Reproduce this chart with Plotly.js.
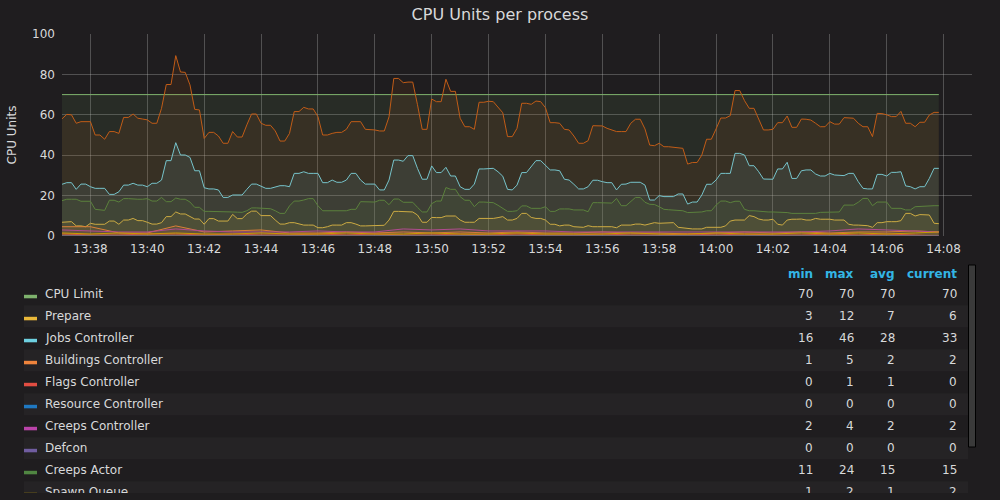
<!DOCTYPE html>
<html><head><meta charset="utf-8">
<script src="https://cdn.plot.ly/plotly-3.0.1.min.js"></script>
<style>html,body{margin:0;padding:0;background:#1f1d1f;width:1000px;height:500px;overflow:hidden}#chart{width:1000px;height:493px}</style>
</head><body><div id="chart"></div>
<script>
// ---------- DATA ----------
const startLabel = '13:37:00';
const sampleStepSeconds = 10;

const cpuLimitTimes = ['13:37:00', '14:07:50'];
const cpuLimitValues = [70, 70];

const prepareValues = [6.8,7.1,7.1,5,5,4.6,6.3,5.8,5.8,5.8,
7.4,7.4,5.8,7.9,7.9,8.7,7.6,7.6,6.8,5.9,
5.9,6.6,9.6,9.6,11.9,10.9,10.9,9.6,8.4,8.4,
5.8,8.6,8.6,7.4,7.4,7.4,10.7,8.6,8.6,10.9,
12.3,12.3,10.1,10.1,10.1,7.9,5.9,5.9,6.6,6.6,
5.9,5.4,5.4,5.4,4.1,4.1,4.6,5.4,5.4,5.4,
6.6,6.6,5.9,5,5,5,5.3,5.3,5.3,7.9,
12.2,12.2,12,11.9,11.9,10.4,6.8,6.8,9.2,9.1,
9.1,9.9,9.9,9.9,7.9,6.8,6.8,6.8,8.7,8.7,
8.7,8.7,9.1,
9.6,7.9,7.9,8.7,11.2,11.2,9.2,
8.7,8.7,7.9,5.8,5.8,5,5.4,5.4,4.6,4.3,
4.3,5.1,4.6,4.6,4.6,4.6,4.6,4.1,5.4,5.4,
5.4,5.9,5.9,5.4,5.9,6.6,6.3,6.3,6.3,6.6,
4.3,4,3.5,3.5,3.5,3.5,4.3,4.3,4.3,4.3,
5,7.4,7.9,7.9,7.9,10.1,9.6,8.4,7.9,7.9,
8.3,5.8,5.4,7.9,8.3,8.3,8.4,7.9,7.9,8.7,
8.3,8.3,8.3,7.9,7.9,7.9,5.8,5.4,5.4,5.1,
5.1,4.3,6.6,6.6,7.1,7.1,7.1,7.6,11.2,11.2,
9.9,10.6,10.6,10.4,6.3,6.1];

const jobsControllerValues = [25.6,26.4,26.4,23.1,25.7,25.7,24.4,23.6,23.6,23.6,
20.6,20.6,21.9,25.2,25.2,26.1,25.2,25.2,24.4,26.1,
26.1,27.7,37.3,37.3,46.2,40.1,40.1,38.9,32.3,32.3,
23.9,23.3,23.3,22.8,19.1,19.1,20.3,20.3,20.3,23.1,
25.7,25.7,24.8,23.6,23.6,24.1,24.9,24.9,24.4,31,
31,31.8,31,31,31,26.4,26.4,27.7,26.6,26.6,
27.7,31,31,27.7,25.7,25.7,25.7,22.8,22.8,27.7,
37.6,37.6,37,39.8,39.8,33.5,28.1,28.1,34.7,31.4,
31.4,34,29.7,29.7,24.4,23.1,23.1,25.7,33.2,33.2,
33.5,33.5,31.8,
29.6,23.1,22.8,25.2,31.4,31.4,34.3,
37.3,37.3,35.1,32.7,32.7,32.3,28.1,27.7,25.6,23.3,
23.3,24.4,27.6,27.6,26.9,26.4,26.4,22.8,25.6,25.7,
26.6,26.6,26.6,25.2,17.8,17.8,20,19.5,19.5,19.5,
20.8,20.8,15.8,16.8,16.8,20.3,25.6,25.6,27.7,31,
31,31,40.9,40.9,40.1,34.8,34.8,31.8,28.2,28.1,
28.1,33.2,33.2,36.5,28.5,28.5,32.3,32.7,32.7,30.7,
29.7,29.7,31,30.2,30.2,29.9,31,31,26.9,23.6,
23.3,23.3,30.5,30.5,29.7,31.5,31.5,31.8,24.8,24.4,
23.3,24.4,24.4,28.5,33.5,33.5];

const creepsActorValues = [17.5,18.2,18.2,18.2,17.2,17.2,17.2,13.2,13,12.7,
17.7,17.7,16.8,18.5,18.5,18.2,18.2,18.2,18.5,17.3,
17.3,19.1,17,17,18.8,18.2,18.2,16.8,14.2,14.2,
12.2,12.2,12.2,11.9,11.9,11.9,11.9,11.8,11.7,12.5,
13.9,13.9,13.8,13.5,13.5,12.5,11.2,11.2,14.9,17.3,
17.3,17.8,18.5,18.5,15,12.5,12.5,12.2,12.2,12.2,
12.5,13.2,13.2,17,16.9,16.8,16.8,17.7,17.7,15.5,
18.3,18.3,16.7,16.7,16.7,14.2,11.9,11.9,16,17.3,
17.3,24,23.1,23.1,19.5,17.7,17.7,14.5,16.8,16.8,
16.5,16.5,15.2,
13.8,12.2,12.2,12.5,14.9,14.9,13.7,
13.7,13.7,14.5,12.2,12.2,13.4,13.4,13.4,12.9,12.9,
12.9,12,16.5,16.5,16.5,16.4,16.3,18.6,15,15,
17,19.1,19.1,16.7,15.7,15.6,14.5,13.2,13,12.8,
12.6,12.5,11.6,11.7,11.8,11.9,12.5,12.5,15.3,17.3,
17.3,16.5,17.2,17.2,13.2,12.5,12.5,12.2,11.9,11.9,
11.9,11.9,11.9,11.6,11.2,11.2,11.2,11.2,11.2,11.2,
11.7,11.7,11.8,11.8,11.9,15.3,15.3,15.3,16.7,18.6,
18.6,15,16.8,16.8,16.8,13.7,13.7,13.7,12.9,12.9,
14.5,14.7,14.9,14.9,15,15];

const totalValues = [58,60.2,60,55.8,56.6,56.6,56.6,50,50,47.9,
51.7,51.7,50.8,58.7,58.7,60.4,58.3,57.9,57.5,55.8,
55.8,63.2,75,75,89.3,81.2,81,74.8,62.7,62.4,
48.3,51.3,51.3,49.5,45.9,45.9,51.7,49,49,55,
60.4,60.4,55.8,54.8,54.8,52,47,47,50.8,61.6,
61.6,63.7,62.9,62.9,59.1,50,50,50.8,51.3,51.3,
52.8,56.6,56.6,56.6,52.8,52.8,52.5,52,52,59,
78,78,75.9,76.2,76.2,65,52.8,52.8,67.8,66.5,
66.5,77.6,71.6,71.6,58.3,54.1,54.1,52.8,66.2,66.2,
66.7,66.5,64,
61,49.2,49.2,53.3,65.7,65.7,65.2,
66.8,66.5,63.5,56.1,56.1,55.8,52.8,52.5,49.5,45.9,
45.9,47.2,54.6,54.6,54.5,53.3,52.5,51.7,51.7,51.7,
55.8,57.8,57.8,53,45,44.7,45.9,44.2,44.2,43.9,
43.4,43.4,35.6,36.4,36.4,40.1,47.9,47.9,53,58.4,
58.4,59.6,72,72,67,63.2,63.2,57.8,52.5,52.5,
52.8,56.1,56.1,59.4,53.8,53.8,57.9,57.8,57.4,55.8,
54.1,54.1,56.6,55.4,55.4,58.6,58.3,58.3,55.8,54.1,
54.1,49.2,60.7,60.6,60,59.1,59.1,61.7,55.8,55.8,
54.1,56.3,56.3,59.9,61.2,61.2];

// small series, one reading per minute (13:37 ... 14:07, then 14:07:50)
const minuteTimes = ['13:37:00','13:38:00','13:39:00','13:40:00','13:41:00','13:42:00','13:43:00','13:44:00',
'13:45:00','13:46:00','13:47:00','13:48:00','13:49:00','13:50:00','13:51:00','13:52:00','13:53:00','13:54:00',
'13:55:00','13:56:00','13:57:00','13:58:00','13:59:00','14:00:00','14:01:00','14:02:00','14:03:00','14:04:00',
'14:05:00','14:06:00','14:07:00','14:07:50'];
const buildingsControllerValues = [4.6,4.6,1.5,1.5,5,2,2.5,3,1.5,1.5,2,1.5,2,1.5,2,1.5,2,1.5,1.5,2,1.5,1.5,1,1.5,2,1.5,2,1.5,2,2,2.5,2];
const flagsControllerValues = [1,0.5,0.5,1,1,0.5,1,0.5,0.5,1,0.5,1,0.5,0.5,1,0.5,1,0.5,0.5,1,0.5,0.5,1,0.5,1,0.5,0.5,1,0.5,1,0.5,0];
const creepsControllerValues = [3,2.5,2,2,3.5,2.5,2,2,2,2.5,2,2,3.5,3,3.5,2.5,2.5,2.5,2,2,2,2,2,2,2,2,2,2.5,3.5,3,2.5,2];
const spawnQueueValues = [1.5,1,1.5,1,1.5,1,1,1.5,1,1,1.5,1,1,1.5,1,1,1.5,1,1,1,1.5,1,1,1.5,1,1,1.5,1,1.5,1,1.5,2];
const resourceControllerValues = [0, 0];
const defconValues = [0, 0];

// legend table
const legendNames = ['CPU Limit','Prepare','Jobs Controller','Buildings Controller','Flags Controller',
  'Resource Controller','Creeps Controller','Defcon','Creeps Actor','Spawn Queue'];
const statHeaders = ['min','max','avg','current'];
const statMin = [70,3,16,1,0,0,2,0,11,1];
const statMax = [70,12,46,5,1,0,4,0,24,2];
const statAvg = [70,7,28,2,1,0,2,0,15,1];
const statCurrent = [70,6,33,2,0,0,2,0,15,2];

const chartTitle = 'CPU Units per process';
const yTitle = 'CPU Units';
const xRange = ['13:37:00', '14:09:00'];
const yRange = [0, 100];

// ---------- STYLE ----------
const colors = {
  'CPU Limit':'#7EB26D','Prepare':'#EAB839','Jobs Controller':'#6ED0E0','Buildings Controller':'#EF843C',
  'Flags Controller':'#E24D42','Resource Controller':'#1F78C1','Creeps Controller':'#BA43A9','Defcon':'#705DA0',
  'Creeps Actor':'#508642','Spawn Queue':'#CCA300','Total':'#C15C17'
};
const FONT = 'DejaVu Sans, sans-serif';
const TEXT = '#d8d9da';
const BG = '#1f1d1f';

const day = '2017-01-01 ';
function toSec(hms){ const p = hms.split(':').map(Number); return p[0]*3600+p[1]*60+p[2]; }
function pad(n){ return (n<10?'0':'')+n; }
function stamp(sec){ return day+pad(Math.floor(sec/3600))+':'+pad(Math.floor(sec%3600/60))+':'+pad(sec%60); }
const startSec = toSec(startLabel);
const sampleTimes = prepareValues.map((_, i) => stamp(startSec + i*sampleStepSeconds));
const dt = arr => arr.map(t => day + t);

function rgba(hex, a){
  const n = parseInt(hex.slice(1),16);
  return 'rgba('+((n>>16)&255)+','+((n>>8)&255)+','+(n&255)+','+a+')';
}
function series(name, x, y){
  return {type:'scatter', mode:'lines', name:name, x:x, y:y,
    line:{color:colors[name], width:1, shape:'linear'},
    fill:'tozeroy', fillcolor:rgba(colors[name],0.1), hoverinfo:'skip', showlegend:false};
}

const traces = [
  series('CPU Limit', dt(cpuLimitTimes), cpuLimitValues),
  series('Prepare', sampleTimes, prepareValues),
  series('Jobs Controller', sampleTimes, jobsControllerValues),
  series('Buildings Controller', dt(minuteTimes), buildingsControllerValues),
  series('Flags Controller', dt(minuteTimes), flagsControllerValues),
  series('Resource Controller', dt(cpuLimitTimes), resourceControllerValues),
  series('Creeps Controller', dt(minuteTimes), creepsControllerValues),
  series('Defcon', dt(cpuLimitTimes), defconValues),
  series('Creeps Actor', sampleTimes, creepsActorValues),
  series('Spawn Queue', dt(minuteTimes), spawnQueueValues),
  series('Total', sampleTimes, totalValues)
];

// pixel -> paper helpers (plot area: x 62..972, y 34..236)
const PL = 62, PR = 972, PT = 34, PB = 236, H = 493;
const X = px => (px - PL) / (PR - PL);
const Y = py => (PB - py) / (PB - PT);

const shapes = [];
const annotations = [];
const rowTop = 294.3, rowStep = 22;
const colRight = [813.5, 854.5, 896, 957.5];
const statCols = [statMin, statMax, statAvg, statCurrent];

statHeaders.forEach((h, c) => annotations.push({xref:'paper', yref:'paper', x:X(colRight[c]), y:Y(273.5),
  xanchor:'right', yanchor:'middle', showarrow:false, text:'<b>'+h+'</b>', borderpad:0,
  font:{family:FONT, size:12, color:'#33b5e5'}}));

legendNames.forEach((name, i) => {
  const cy = rowTop + i*rowStep;
  if (i % 2 === 1) {
    shapes.push({type:'rect', xref:'paper', yref:'paper', x0:X(24), x1:X(968), y0:Y(cy-11), y1:Y(cy+11),
      fillcolor:'#252325', line:{width:0}, layer:'below'});
  }
  shapes.push({type:'rect', xref:'paper', yref:'paper', x0:X(24), x1:X(37), y0:Y(cy+0.5), y1:Y(cy+4),
    fillcolor:colors[name], line:{width:0}});
  annotations.push({xref:'paper', yref:'paper', x:X(44), y:Y(cy), xanchor:'left', yanchor:'middle',
    showarrow:false, text:name, borderpad:0, font:{family:FONT, size:12, color:TEXT}});
  statCols.forEach((col, c) => annotations.push({xref:'paper', yref:'paper', x:X(colRight[c]), y:Y(cy),
    xanchor:'right', yanchor:'middle', showarrow:false, text:String(col[i]), borderpad:0,
    font:{family:FONT, size:12, color:TEXT}}));
});

// scrollbar of the legend box
shapes.push({type:'rect', xref:'paper', yref:'paper', x0:X(968.5), x1:X(975.5), y0:Y(265), y1:Y(447),
  fillcolor:'#3a3a3a', line:{color:'#000000', width:1}});

const grid = 'rgba(200,200,200,0.3)';
const layout = {
  width:1000, height:H,
  paper_bgcolor:BG, plot_bgcolor:BG,
  margin:{l:PL, r:1000-PR, t:PT, b:H-PB, pad:0},
  font:{family:FONT, color:TEXT, size:12},
  title:{text:chartTitle, font:{family:FONT, size:16, color:TEXT}, x:0.5, xref:'container', xanchor:'center',
    y:1-14/H, yref:'container', yanchor:'middle'},
  xaxis:{type:'date', range:[day+xRange[0], day+xRange[1]], tickformat:'%H:%M', dtick:120000,
    tick0:day+'13:38:00', showgrid:true, gridcolor:grid, gridwidth:1, zeroline:false, showline:false,
    ticks:'', tickfont:{family:FONT, size:12, color:TEXT}, fixedrange:true, ticklabelstandoff:4},
  yaxis:{range:yRange, dtick:20, showgrid:true, gridcolor:grid, gridwidth:1, zeroline:false, showline:false,
    ticks:'', tickfont:{family:FONT, size:12, color:TEXT}, fixedrange:true, ticklabelstandoff:6,
    title:{text:yTitle, font:{family:FONT, size:12, color:TEXT}, standoff:12}},
  shapes:shapes, annotations:annotations, showlegend:false
};

Plotly.newPlot('chart', traces, layout, {staticPlot:true, displayModeBar:false});
</script></body></html>
